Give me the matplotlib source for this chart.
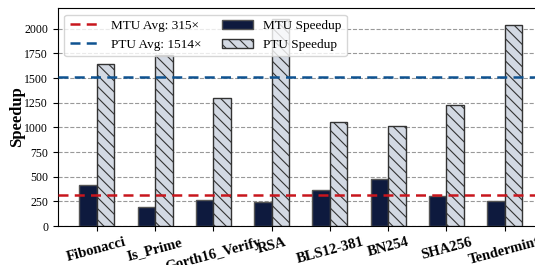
import numpy as np
import matplotlib.pyplot as plt

plt.rcParams['font.family'] = ['Liberation Serif', 'DejaVu Serif']
plt.rcParams['hatch.color'] = '#333333'
plt.rcParams['hatch.linewidth'] = 0.8

# benchmark speedups
programs = ["Fibonacci", "Is_Prime", "Gorth16_Verify", "RSA",
            "BLS12-381", "BN254", "SHA256", "Tendermint"]
mtu_speedup = np.array([420, 195, 265, 248, 366, 475, 305, 250])
ptu_speedup = np.array([1645, 1736, 1296, 2100, 1052, 1017, 1228, 2035])
mtu_avg = 315
ptu_avg = 1514

x = np.arange(len(programs))
w = 0.3

fig = plt.figure(figsize=(5.35, 2.65), dpi=100)
ax = fig.add_axes([0.108, 0.147, 0.908, 0.823])

ax.bar(x - w/2, mtu_speedup, w, color='#0e1a3e', edgecolor='#555555',
       linewidth=1.0, label="MTU Speedup", zorder=3)
ax.bar(x + w/2, ptu_speedup, w, color='#d3d9e3', edgecolor='#333333',
       linewidth=1.0, hatch='\\\\\\', label="PTU Speedup", zorder=3)

ax.axhline(mtu_avg, color='#c8161d', ls='--', lw=1.8, dashes=(4, 2.5),
           label=f"MTU Avg: {mtu_avg}×", zorder=4)
ax.axhline(ptu_avg, color='#0f5391', ls='--', lw=1.8, dashes=(4, 2.5),
           label=f"PTU Avg: {ptu_avg}×", zorder=4)

ax.set_xlim(-0.67, 7.67)
ax.set_ylim(0, 2210)
ax.set_yticks(np.arange(0, 2001, 250))
ax.yaxis.grid(True, ls='--', color='gray', lw=0.8, alpha=0.8, zorder=0)
ax.set_xticks(x)
ax.set_xticklabels(programs, rotation=15, fontweight='bold', fontsize=10.5)
ax.tick_params(axis='y', labelsize=8.5)
ax.set_ylabel("Speedup", fontsize=12, fontweight='bold')
ax.yaxis.set_label_coords(-0.067, 0.5)

# lines first column, bars second
h, l = ax.get_legend_handles_labels()
ax.legend(h, l, ncol=2, loc='upper left', fontsize=9.5, framealpha=0.8,
          handlelength=2.3, columnspacing=1.6)

fig.savefig("out.png", dpi=100)
